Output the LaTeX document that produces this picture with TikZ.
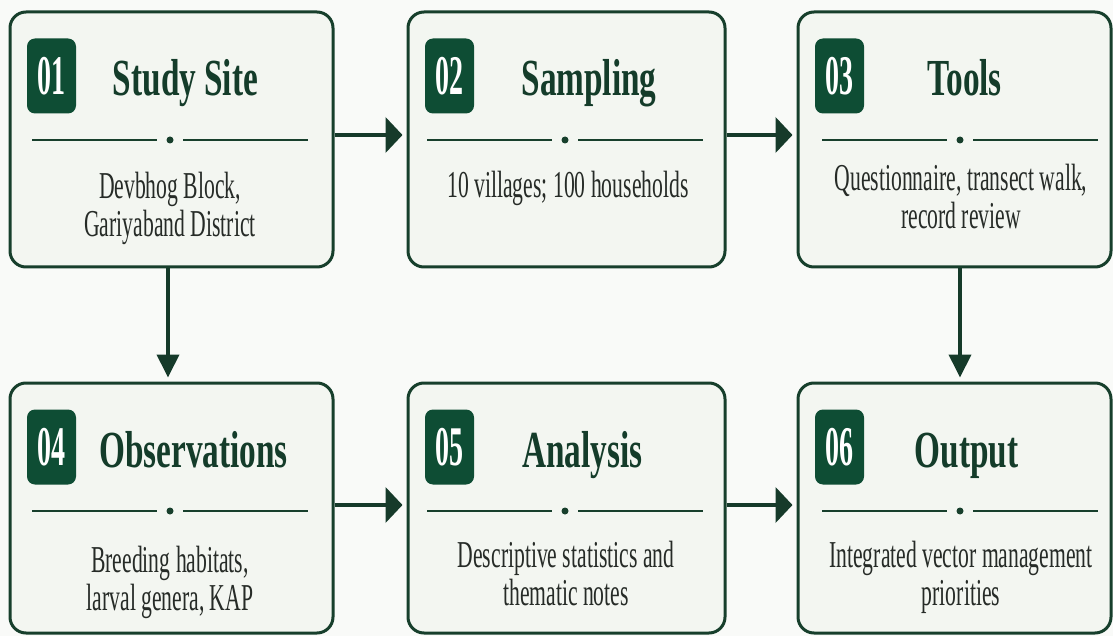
\documentclass[tikz,border=0pt]{standalone}
\usepackage{fontspec}
\setmainfont{Liberation Serif}
\newfontfamily\titlefont[FakeStretch=0.64]{Liberation Serif}
\newfontfamily\numfont[FakeStretch=0.50]{Liberation Serif}
\newfontfamily\bodyfont[FakeStretch=0.57]{Liberation Serif}
\usetikzlibrary{arrows.meta}
\definecolor{frame}{HTML}{173F2C}
\definecolor{badgec}{HTML}{0E4D34}
\definecolor{titlec}{HTML}{143C2A}
\definecolor{bodyc}{HTML}{262B27}
\definecolor{cardfill}{HTML}{F3F6F1}
\definecolor{bgc}{HTML}{F9FAF8}
\definecolor{arrowc}{HTML}{163A2A}
\tikzset{
  card/.style={draw=frame, line width=3pt, fill=cardfill, rounded corners=16pt, inner sep=0pt},
  badgebox/.style={fill=badgec, rounded corners=8pt, minimum width=49pt, minimum height=75pt,
    inner sep=0pt, text=white, font=\numfont\bfseries\fontsize{56}{56}\selectfont},
  titletext/.style={anchor=base, inner sep=0pt, text=titlec, font=\titlefont\bfseries\fontsize{52}{52}\selectfont},
  bodytext/.style={anchor=north, inner sep=0pt, align=center, text=bodyc, font=\bodyfont\fontsize{38}{38}\selectfont},
  divline/.style={draw=frame, line width=1.4pt},
  harrow/.style={draw=arrowc, line width=4.5pt, -{Triangle[length=17pt,width=35pt]}, shorten >=4pt},
  varrow/.style={draw=arrowc, line width=4pt, -{Triangle[length=23pt,width=22pt]}, shorten >=4pt},
}
% #1 name, #2 left, #3 top, #4 right, #5 bottom, #6 number, #7 title, #8 title centre x, #9 divider centre x
\newcommand\stepcard[9]{%
  \node[card, minimum width={#4-#2}, minimum height={#5-#3}] (#1) at ({(#2+#4)/2},{(#3+#5)/2}) {};
  \node[badgebox] (#1-num) at ({#2+41.5},{#3+64}) {#6};
  \node[titletext] (#1-title) at (#8,{#3+84}) {#7};
  \draw[divline] ({#9-138},{#3+128}) -- ({#9-13},{#3+128});
  \draw[divline] ({#9+13},{#3+128}) -- ({#9+138},{#3+128});
  \fill[frame] (#9,{#3+128}) circle (3.5pt);
}
\begin{document}
\begin{tikzpicture}[x=1pt,y=-1pt]
\fill[bgc] (0,0) rectangle (1113,636);
\useasboundingbox (0,0) rectangle (1113,636);

\stepcard{s1}{10}{12}{333}{267}{01}{Study Site}{185.5}{170}
\stepcard{s2}{408}{12}{725}{267}{02}{Sampling}{589}{565}
\stepcard{s3}{798}{12}{1111}{267}{03}{Tools}{964.5}{960}
\stepcard{s4}{10}{383}{333}{633}{04}{Observations}{193.5}{170}
\stepcard{s5}{408}{383}{725}{633}{05}{Analysis}{582.5}{565}
\stepcard{s6}{798}{383}{1111}{633}{06}{Output}{966.5}{960}

\node[bodytext] (s1-body) at (170,{198-26.6}) {\strut Devbhog Block,\\\strut Gariyaband District};
\node[bodytext] (s2-body) at (568,{197-26.6}) {\strut 10 villages; 100 households};
\node[bodytext] (s3-body) at (961,{190-26.6}) {\strut Questionnaire, transect walk,\\\strut record review};
\node[bodytext] (s4-body) at (170,{572-26.6}) {\strut Breeding habitats,\\\strut larval genera, KAP};
\node[bodytext] (s5-body) at (566,{567-26.6}) {\strut Descriptive statistics and\\\strut thematic notes};
\node[bodytext] (s6-body) at (961,{567-26.6}) {\strut Integrated vector management\\\strut priorities};

\draw[harrow] ([yshift=4.5pt]s1.east) -- ([yshift=4.5pt]s2.west);
\draw[harrow] ([yshift=4.5pt]s2.east) -- ([yshift=4.5pt]s3.west);
\draw[harrow] ([yshift=3pt]s4.east) -- ([yshift=3pt]s5.west);
\draw[harrow] ([yshift=3pt]s5.east) -- ([yshift=3pt]s6.west);
\draw[varrow] ([xshift=-3.5pt]s1.south) -- ([xshift=-3.5pt]s4.north);
\draw[varrow] ([xshift=5.5pt]s3.south) -- ([xshift=5.5pt]s6.north);
\end{tikzpicture}
\end{document}
